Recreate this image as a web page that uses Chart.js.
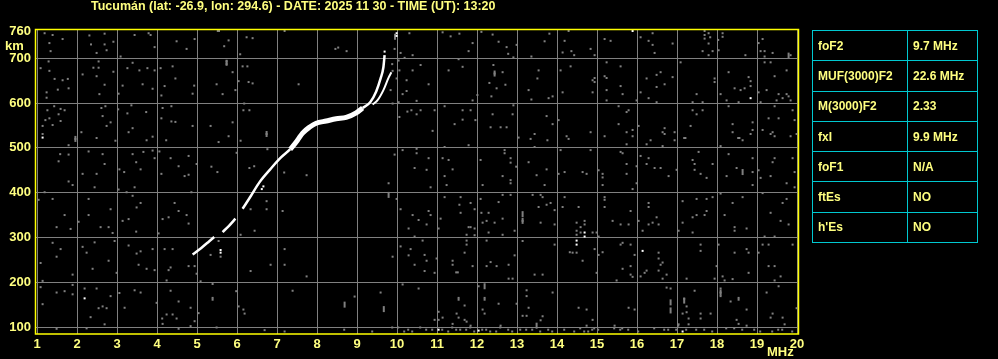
<!DOCTYPE html>
<html>
<head>
<meta charset="utf-8">
<script src="https://cdn.jsdelivr.net/npm/chart.js@4.4.1/dist/chart.umd.min.js"></script>
<style>
  body { margin: 0; background: #000; }
  #wrap { position: relative; width: 998px; height: 359px; }
  #ionogram { position: absolute; left: 0; top: 0; }
  #params { position: absolute; left: 812px; top: 30px; border-collapse: collapse;
            font: bold 12px "Liberation Sans", Arial, sans-serif; color: #ffff80; }
  #params td { border: 1px solid #00c8d0; height: 29.3px; padding: 0 0 0 5px; }
  #params td:first-child { width: 89px; }
  #params td:last-child { width: 64px; }
</style>
</head>
<body>
<div id="wrap">
  <canvas id="ionogram" width="998" height="359"></canvas>
  <table id="params"></table>
</div>
<script>
let title = 'Tucumán (lat: -26.9, lon: 294.6) - DATE: 2025 11 30 - TIME (UT): 13:20';

let freqTicks = [1, 2, 3, 4, 5, 6, 7, 8, 9, 10, 11, 12, 13, 14, 15, 16, 17, 18, 19, 20];
let heightTicks = [100, 200, 300, 400, 500, 600, 700, 760];

// ordinary trace (MHz / km), null = gap in the echo
let traceF = [4.89, 5.1, 5.3, 5.43, 5.53, 5.64, 5.8, 5.96, 6.05, 6.14, 6.35, 6.56, 6.83, 7.08, 7.33, 7.52, 7.64, 7.81, 7.98, 8.23, 8.48, 8.73, 8.98, 9.14, 9.33, 9.48, 9.59, 9.66, 9.69];
let traceH = [262, 276, 291, 301, null, 312, 326, 342, null, 364, 393, 423, 452, 477, 497, 518, 533, 546, 555, 560, 565, 568, 578, 589, 602, 626, 655, 680, 707];

// extraordinary trace
let xTraceF = [9.39, 9.51, 9.66, 9.79, 9.86];
let xTraceH = [597, 606, 629, 657, 669];

let paramNames = ['foF2', 'MUF(3000)F2', 'M(3000)F2', 'fxI', 'foF1', 'ftEs', "h'Es"];
let paramValues = ['9.7 MHz', '22.6 MHz', '2.33', '9.9 MHz', 'N/A', 'NO', 'NO'];

// scattered interference dots
let noiseDots = [
  [1.19,756],[1.39,752],[1.31,734],[1.34,716],[1.64,743],[2.31,751],[2.35,731],[2.49,712],[2.69,755],[2.69,731],
  [2.74,718],[2.91,737],[3.09,704],[3.44,752],[3.79,756],[3.84,752],[3.94,725],[4.49,738],[4.74,721],[4.94,743],
  [5.52,761],[5.55,761],[5.68,727],[5.79,740],[6.08,709],[6.24,747],[6.39,745],[7.19,761],
  [1.29,693],[1.09,678],[1.31,672],[1.44,654],[1.64,651],[1.77,654],[1.79,633],[1.52,630],[1.24,624],[1.24,612],
  [2.14,664],[2.41,679],[2.54,693],[2.54,679],[2.49,660],[2.69,641],[2.56,620],[2.91,670],[3.04,621],[3.14,639],
  [3.26,678],[3.39,690],[3.56,673],[3.76,678],[3.94,673],[3.64,642],[3.89,632],[4.09,678],[4.39,682],[4.46,655],
  [4.19,638],[4.11,617],[4.93,639],[4.89,621],[5.49,642],[5.74,693],[5.74,687],[5.89,669],[6.04,649],[6.14,682],
  [6.26,682],[6.29,647],[6.39,644],[5.96,629],[5.64,620],
  [1.26,584],[1.43,593],[1.59,587],[1.69,584],[1.54,575],[1.31,566],[1.21,562],[1.59,560],[1.39,551],[1.14,549],
  [1.14,531],[1.96,520],[1.79,506],[2.11,535],[2.49,522],[2.71,593],[2.61,589],[2.64,571],[2.84,557],[2.74,549],
  [2.96,516],[3.03,586],[3.26,577],[3.36,595],[3.39,544],[3.29,535],[3.73,580],[3.74,517],[3.89,525],[4.14,589],
  [4.11,566],[4.36,559],[4.46,558],[4.36,593],[4.23,517],[4.89,549],[5.34,549],[5.79,526],[5.89,557],[6.18,599],
  [6.16,584],[6.31,584],[6.09,516],[6.74,531],[5.54,513],
  [2.29,492],[1.58,486],[1.79,485],[1.54,470],[1.79,425],[2.14,442],[2.49,442],[2.64,486],[2.69,464],[3.06,452],
  [3.18,446],[3.39,486],[3.48,468],[3.59,452],[3.66,491],[3.89,494],[4.06,492],[3.94,477],[4.34,477],[4.11,442],
  [4.54,459],[4.69,437],[4.79,440],[4.79,482],[4.99,464],[5.36,458],[5.51,446],[5.99,489],[6.31,455],[6.43,459],
  [6.76,497],[7.18,445],
  [10.31,756],[8.46,721],[8.53,724],[8.74,716],[7.54,642],[7.74,439],[9.94,721],[10.09,712],[10.19,701],[10.04,695],
  [10.39,707],[9.88,687],[9.89,672],[10.06,673],[10.39,673],[10.59,685],[9.99,655],[10.24,651],[9.84,629],[10.24,627],
  [10.14,620],[10.79,642],[10.49,605],[10.04,602],[9.89,599],[10.06,569],[10.26,581],[10.36,584],[10.59,584],[10.49,575],
  [10.94,584],[11.14,758],[11.34,749],[11.56,755],[11.89,734],[11.79,716],[12.11,759],[12.39,753],[12.54,737],[12.74,725],
  [12.78,710],[12.91,702],[12.99,730],[13.36,704],[13.69,738],[13.81,755],[11.54,698],[11.29,673],[11.64,681],[12.41,685],
  [12.44,666],[12.64,669],[12.31,645],[12.49,633],[12.71,641],[12.36,615],[12.01,618],[11.89,606],[13.29,629],[13.51,655],
  [13.54,673],[13.36,608],[13.79,611],[13.89,615],[11.19,593],[11.64,584],[11.84,584],[11.64,563],[11.44,553],[11.96,562],
  [12.39,575],[12.91,595],[12.89,575],[12.34,546],[12.59,546],[12.74,546],[10.89,538],[11.19,502],[11.79,506],[13.04,523],
  [13.34,520],[13.44,531],[13.74,571],[13.89,553],[13.76,517],[13.44,502],[9.94,485],[10.14,495],[10.49,498],[10.49,488],
  [10.79,477],[10.44,455],[10.74,451],[11.14,477],[11.29,473],[11.39,452],[11.19,437],[12.09,473],[12.69,495],[12.69,488],
  [12.84,477],[12.84,467],[12.64,437],[12.98,458],[12.84,428],[13.29,468],[13.49,439],[13.74,452],
  [14.29,761],[14.19,739],[14.14,713],[14.36,716],[14.43,707],[14.84,721],[14.94,707],[15.19,743],[15.34,739],[16.09,747],
  [16.39,756],[16.29,739],[16.39,730],[16.44,712],[16.89,733],[17.69,761],[17.69,752],[17.79,756],[17.83,747],[17.69,744],
  [17.79,733],[18.03,741],[18.04,718],[18.14,756],[18.14,748],[17.64,716],[17.89,716],[17.79,707],[18.71,707],[19.14,743],
  [19.04,734],[19.09,716],[19.19,716],[19.39,712],[19.19,704],[19.84,707],
  [14.09,673],[14.34,682],[14.89,651],[14.94,656],[14.94,647],[14.14,624],[14.89,624],[15.24,691],[15.59,682],[15.19,660],
  [15.24,656],[15.24,629],[15.59,638],[15.64,620],[15.24,606],[15.99,606],[16.24,655],[16.49,663],[16.59,669],[16.49,636],
  [16.69,642],[16.89,658],[16.09,624],[16.29,611],[16.49,602],[17.09,691],[17.49,620],[17.39,602],[17.64,602],[17.94,655],
  [17.94,647],[18.29,669],[18.09,620],[18.24,606],[18.44,633],[18.59,629],[18.69,633],[18.54,602],[18.79,658],[18.84,649],
  [18.84,638],[19.04,624],[19.24,629],[19.19,691],[19.34,691],[19.44,660],[19.74,673],[19.54,620],[19.64,611],[19.74,620],
  [19.79,615],[19.84,606],[19.49,606],[19.09,602],
  [14.04,562],[14.24,526],[14.29,520],[14.84,535],[15.19,526],[15.54,593],[15.74,580],[15.79,584],[15.54,553],[15.74,535],
  [15.89,540],[15.89,526],[15.74,508],[16.04,549],[16.34,517],[16.24,508],[16.69,544],[16.64,535],[16.69,531],[16.94,535],
  [16.94,517],[17.18,522],[17.21,522],[17.34,549],[17.39,584],[17.49,575],[17.64,584],[18.39,553],[18.39,535],[18.53,522],
  [18.56,522],[18.64,517],[18.84,531],[18.89,557],[18.89,540],[18.29,593],[19.14,540],[19.34,531],[19.44,526],[19.39,535],
  [19.29,566],[19.54,566],[19.44,593],[19.89,584],[19.94,562],[19.84,526],[19.99,531],
  [14.09,495],[14.84,495],[14.19,446],[14.04,442],[14.64,446],[14.74,442],[15.04,450],[15.14,442],[15.14,434],[15.59,491],
  [15.64,488],[15.74,464],[15.74,442],[15.99,459],[16.09,482],[16.29,477],[16.24,464],[16.44,455],[16.59,455],[16.64,504],
  [16.79,437],[16.99,451],[17.39,473],[17.44,464],[17.54,491],[17.44,451],[17.59,442],[17.74,433],[17.89,464],[18.09,504],
  [18.29,486],[18.24,437],[18.49,455],[18.89,477],[18.89,446],[19.04,450],[19.09,433],[19.39,468],[19.44,477],[19.34,437],
  [19.89,477],[19.94,446],
  [1.19,401],[1.04,384],[1.39,386],[1.69,350],[2.04,335],[2.29,386],[2.29,350],[1.89,417],[2.44,412],[2.59,323],
  [2.79,323],[2.89,310],[2.84,363],[1.49,323],[1.84,319],[1.39,288],[1.59,274],[1.09,243],[1.49,257],[1.89,217],
  [2.14,279],[2.24,266],[2.44,289],[2.39,230],[2.79,248],[2.94,292],[2.99,221],[3.04,407],[3.24,401],[3.39,393],
  [3.49,367],[3.59,377],[3.29,341],[3.14,337],[3.48,313],[3.29,282],[3.59,269],[3.49,264],[3.89,274],[3.54,239],
  [3.74,230],[3.94,227],[3.44,412],[4.14,341],[4.29,345],[4.04,309],[4.44,377],[4.54,359],[4.74,350],[4.79,331],
  [4.86,401],[4.19,274],[4.39,274],[4.29,227],[4.34,233],[4.24,204],[4.94,236],[4.79,236],[4.99,219],[5.09,202],
  [5.34,261],[5.59,257],[5.54,292],[5.39,196],[6.09,306],[6.44,315],[6.34,363],[6.74,381],[6.74,363],[7.14,359],
  [7.19,274],[6.84,239],[7.19,239],[6.34,225],[5.98,180],[6.04,146],[6.19,130],[6.16,139],[7.39,181],
  [1.14,203],[1.09,189],[1.14,151],[1.49,177],[1.69,180],[1.89,194],[1.89,173],[2.19,186],[2.34,122],[2.49,186],
  [2.54,142],[2.64,146],[2.69,106],[2.24,97],[1.49,96],[2.74,142],[2.84,169],[3.06,176],[3.19,143],[3.44,182],
  [3.59,177],[3.99,154],[4.13,119],[4.14,107],[4.24,128],[4.34,181],[4.54,157],[4.39,128],[4.49,119],[4.84,143],
  [5.04,131],[4.94,113],[4.54,96],[4.84,102],[5.49,99],[6.69,93],[7.19,90],[5.39,165],[5.39,161],
  [9.79,421],[9.99,386],[10.84,412],[11.24,417],[11.19,390],[11.59,390],[11.56,373],[11.84,377],[11.94,363],[11.59,355],
  [12.14,417],[12.09,386],[12.54,379],[12.64,395],[12.84,395],[12.84,421],[13.39,395],[13.59,395],[13.64,390],[13.54,368],
  [13.74,373],[13.84,377],[13.94,361],[13.69,417],[13.14,337],[13.59,333],[13.94,329],[10.09,363],[10.39,350],[10.54,339],
  [10.79,359],[10.84,350],[10.74,329],[10.29,320],[10.44,302],[10.64,293],[11.09,342],[11.04,320],[11.79,323],[11.84,323],
  [11.94,320],[11.94,305],[11.74,306],[12.11,355],[12.29,355],[12.14,333],[12.24,337],[12.44,333],[12.64,342],[12.29,311],
  [12.64,306],[12.94,315],[11.74,293],[11.74,284],[12.24,293],[13.14,292],[13.94,284],[10.09,280],[9.89,257],[10.29,260],
  [10.34,274],[10.44,239],[10.69,261],[10.74,248],[10.69,225],[10.94,221],[10.99,253],[11.39,248],[11.39,239],[11.48,222],
  [11.52,222],[11.69,266],[11.89,236],[12.24,236],[12.34,245],[12.49,236],[12.79,239],[12.94,260],[12.79,208],[12.89,208],
  [13.44,217],[13.64,217],[7.74,213],[10.14,195],[10.54,186],[9.59,177],[8.94,168],[11.54,165],[11.54,161],[12.19,165],
  [12.19,161],[12.04,191],[11.69,148],[11.04,134],[11.14,121],[10.94,116],[11.04,116],[11.49,130],[11.54,121],[11.69,116],
  [11.74,112],[11.39,107],[11.84,103],[12.14,139],[12.19,130],[12.54,152],[12.59,103],[12.99,152],[13.24,182],[13.24,169],
  [13.29,143],[13.14,125],[13.24,125],[13.64,124],[13.59,115],[13.89,177],
  [8.68,94],[9.38,90],[9.88,99],[10.03,99],[10.18,90],[10.28,94],[10.38,90],[10.58,99],[10.73,94],[10.88,94],
  [11.13,94],[11.28,90],[11.38,99],[11.48,94],[11.58,94],[11.73,94],[11.83,99],[11.93,90],[12.13,94],[12.23,94],
  [12.33,90],[12.48,90],[12.58,99],[12.78,94],[12.88,90],[13.08,94],[13.23,94],[13.38,94],[13.58,90],[13.78,94],[13.88,90],
  [15.14,417],[15.89,408],[15.99,421],[18.89,417],[19.74,421],[19.94,412],[14.19,390],[14.14,368],[14.54,368],[15.19,390],
  [15.19,384],[15.19,368],[15.84,359],[16.29,377],[16.29,368],[16.49,345],[16.04,337],[16.39,333],[16.29,329],[16.54,329],
  [16.14,315],[15.39,337],[15.59,329],[15.79,329],[14.49,333],[14.69,337],[14.69,329],[14.59,323],[14.49,315],[14.59,311],
  [14.89,311],[14.49,306],[14.99,311],[15.04,302],[17.14,381],[17.49,386],[17.74,386],[17.89,390],[17.69,350],[17.49,350],
  [17.39,345],[17.74,359],[17.14,333],[17.04,315],[17.39,311],[18.09,398],[18.39,377],[18.64,390],[18.19,350],[18.44,323],
  [18.44,315],[18.74,320],[19.14,399],[19.34,355],[19.64,377],[19.74,386],[19.59,337],[19.79,329],[19.19,302],[19.44,302],
  [14.32,267],[14.39,266],[14.49,266],[14.64,248],[14.94,274],[15.04,261],[15.14,267],[14.99,221],[15.59,284],[15.64,288],
  [15.84,284],[15.94,261],[15.64,230],[15.84,236],[15.84,217],[15.89,212],[15.49,204],[16.54,266],[16.54,253],[16.64,244],
  [16.59,239],[16.54,226],[16.24,226],[16.19,221],[16.09,213],[16.74,217],[16.64,208],[17.24,208],[17.59,284],[17.59,270],
  [18.04,284],[17.99,236],[18.14,213],[17.94,208],[18.39,207],[18.19,204],[18.44,266],[18.74,274],[18.79,266],[18.79,221],
  [19.04,266],[19.14,284],[19.29,284],[19.29,236],[19.44,236],[19.59,213],[19.44,204],[19.89,284],
  [16.74,188],[16.84,186],[17.44,181],[17.18,163],[17.24,146],[17.24,133],[17.14,130],[17.29,119],[17.29,106],[17.59,130],
  [17.59,119],[17.84,130],[17.04,106],[18.09,186],[18.09,177],[18.09,169],[18.34,157],[18.54,165],[18.54,161],[18.74,139],
  [18.49,116],[18.54,107],[18.74,103],[19.24,177],[19.54,191],[19.39,130],[19.34,121],[19.64,121],[19.69,106],[19.99,142],
  [14.54,143],[14.74,139],[14.89,116],[14.74,103],[15.79,143],[15.94,139],[15.44,103],
  [14.18,94],[14.43,90],[14.58,97],[14.68,90],[14.78,90],[14.88,94],[14.93,97],[15.03,94],[15.43,97],[15.58,94],
  [15.63,97],[15.78,94],[16.03,90],[16.43,97],[16.68,94],[16.78,94],[16.98,94],[17.03,103],[17.23,94],[17.48,94],
  [17.68,94],[17.88,90],[18.23,97],[18.43,97],[18.63,94],[18.93,94],[19.08,90],[19.38,90],[19.53,94],[19.63,94],[19.88,90]
];

// taller interference marks
let tallDots = [
  [9.95,748],[9.79,395],[13.14,352],[8.69,150],[9.67,140],[13.49,103],[18.64,446],[16.84,155],[16.84,137],
  [12.19,191],[17.18,159],[18.09,177],[13.14,337],[5.74,690],[12.44,666],[19.79,706],[6.74,531],[1.96,520]
];

// bright (white) returns away from the trace
let whiteDots = [
  [1.14,523],[2.19,164],[5.59,272],[5.59,266],[14.69,311],[14.69,302],[14.49,293],[14.49,284],[16.14,270],
  [18.84,611],[15.89,761],[11.04,94],[12.04,92],[17.14,90],[9.99,756],[9.99,750],[6.62,408],[6.66,414],[9.69,715]
];

function toPoints(fs, hs) {
  return fs.map((f, i) => ({ x: f, y: hs[i] }));
}
function pairsToPoints(pairs) {
  return pairs.map(p => ({ x: p[0], y: p[1] }));
}

function buildTable() {
  let table = document.getElementById('params');
  paramNames.forEach((name, i) => {
    let row = document.createElement('tr');
    let a = document.createElement('td');
    a.textContent = name;
    let b = document.createElement('td');
    b.textContent = paramValues[i];
    row.appendChild(a);
    row.appendChild(b);
    table.appendChild(row);
  });
}

let textColor = '#ffff80';
let fontName = '"Liberation Sans", Arial, sans-serif';

let labelsPlugin = {
  id: 'labels',
  afterDraw(chart) {
    let ctx = chart.ctx;
    let area = chart.chartArea;
    ctx.save();
    ctx.strokeStyle = '#ffff00';
    ctx.lineWidth = 1.5;
    ctx.strokeRect(area.left - 0.5, area.top - 0.5, area.right - area.left + 1, area.bottom - area.top + 0.5);
    ctx.fillStyle = textColor;
    ctx.textBaseline = 'middle';
    ctx.textAlign = 'left';
    ctx.font = 'bold 12.5px ' + fontName;
    ctx.fillText(title, 91, 7);
    ctx.font = 'bold 13px ' + fontName;
    ctx.fillText('km', 5, 46);
    ctx.fillText('MHz', 767, 352);
    ctx.restore();
  }
};

function loadChart() {
  let ctx = document.getElementById('ionogram').getContext('2d');
  return new Chart(ctx, {
    type: 'scatter',
    data: {
      datasets: [
        {
          type: 'line',
          data: toPoints(traceF, traceH),
          borderColor: '#ffffff',
          borderWidth: 2.5,
          pointRadius: 0,
          cubicInterpolationMode: 'monotone',
          spanGaps: false,
          segment: {
            borderWidth: c => (c.p0.parsed.x >= 7.3 && c.p1.parsed.x <= 9.2) ? 5 : 2.5
          }
        },
        {
          type: 'line',
          data: toPoints(xTraceF, xTraceH),
          borderColor: '#ffffff',
          borderWidth: 2,
          pointRadius: 0,
          cubicInterpolationMode: 'monotone'
        },
        {
          data: pairsToPoints(whiteDots),
          pointStyle: 'rect',
          pointRadius: 1.42,
          borderWidth: 0,
          backgroundColor: '#ffffff'
        },
        {
          data: pairsToPoints(tallDots),
          pointStyle: 'line',
          rotation: 90,
          pointRadius: 3,
          borderWidth: 2,
          borderColor: '#808080'
        },
        {
          data: pairsToPoints(noiseDots),
          pointStyle: 'rect',
          pointRadius: 1.42,
          borderWidth: 0,
          backgroundColor: '#808080'
        }
      ]
    },
    options: {
      responsive: false,
      animation: false,
      events: [],
      layout: { padding: { left: 0, top: 30, right: 200, bottom: 0 } },
      plugins: { legend: { display: false }, tooltip: { enabled: false } },
      scales: {
        x: {
          type: 'linear',
          min: 0.975,
          max: 20.025,
          afterBuildTicks: s => { s.ticks = freqTicks.map(v => ({ value: v })); },
          afterFit: s => { s.height = 25; },
          grid: { color: '#808080', lineWidth: 1, drawTicks: false },
          border: { display: false },
          ticks: { color: textColor, font: { family: fontName, size: 13, weight: 'bold' }, padding: 3, maxRotation: 0 }
        },
        y: {
          type: 'linear',
          min: 84.4,
          max: 763.2,
          afterBuildTicks: s => { s.ticks = heightTicks.map(v => ({ value: v })); },
          afterFit: s => { s.width = 36; },
          grid: { color: c => c.tick && c.tick.value === 760 ? 'rgba(0,0,0,0)' : '#808080', lineWidth: 1, drawTicks: false },
          border: { display: false },
          ticks: { color: textColor, font: { family: fontName, size: 13, weight: 'bold' }, padding: 5 }
        }
      }
    },
    plugins: [labelsPlugin]
  });
}

buildTable();
let chart = loadChart();
</script>
</body>
</html>
